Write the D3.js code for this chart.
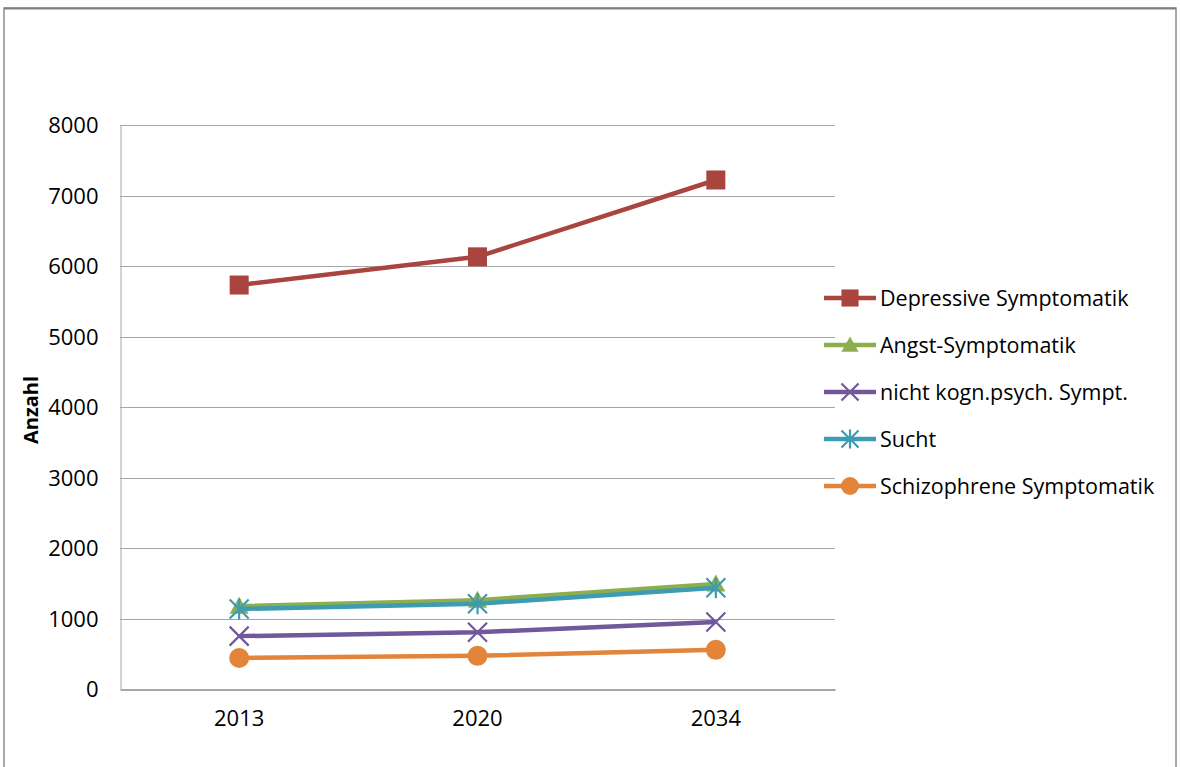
<!DOCTYPE html>
<html>
<head>
<meta charset="utf-8">
<script src="https://cdn.jsdelivr.net/npm/d3@7"></script>
<style>
  body { margin: 0; background: #fff; }
  text { font-family: "Open Sans", Lato, sans-serif; fill: #000; }
</style>
</head>
<body>
<script>
const years = ["2013", "2020", "2034"];
const seriesNames = ["Depressive Symptomatik", "Angst-Symptomatik", "nicht kogn.psych. Sympt.", "Sucht", "Schizophrene Symptomatik"];
const depressive = [5730, 6130, 7220];
const angst = [1175, 1260, 1490];
const nichtKogn = [750, 805, 950];
const sucht = [1135, 1210, 1435];
const schizo = [440, 470, 555];
const yTicks = [0, 1000, 2000, 3000, 4000, 5000, 6000, 7000, 8000];

const colors = ["#a9443f", "#8dae4c", "#70589a", "#3d9bb2", "#e2843a"];
const markers = ["square", "triangle", "x", "star", "circle"];
const allValues = [depressive, angst, nichtKogn, sucht, schizo];

var width = 1180, height = 767;
var plot = {left: 120, right: 835, top: 125, bottom: 689};

var svg = d3.select("body").append("svg")
    .attr("width", width).attr("height", height);

// outer frame
svg.append("rect").attr("x", 4).attr("y", 8).attr("width", 1172).attr("height", 800)
    .attr("fill", "#fff").attr("stroke", "#8c8c8c").attr("stroke-width", 1.5);
svg.append("line").attr("x1", 4).attr("x2", 1176).attr("y1", 8.5).attr("y2", 8.5)
    .attr("stroke", "#808080").attr("stroke-width", 2);

var xScale = d3.scaleBand().domain(years).range([plot.left, plot.right]);
var yScale = d3.scaleLinear().domain([0, 8000]).range([plot.bottom, plot.top]);
var xPos = function(d){ return xScale(d) + xScale.bandwidth()/2; };

// gridlines
svg.append("g").selectAll("line").data(yTicks.filter(function(t){ return t > 0; })).enter().append("line")
    .attr("x1", plot.left).attr("x2", plot.right)
    .attr("y1", function(d){ return Math.round(yScale(d)) + 0.5; })
    .attr("y2", function(d){ return Math.round(yScale(d)) + 0.5; })
    .attr("stroke", "#a6a6a6").attr("stroke-width", 1);

// axes
var yAxis = d3.axisLeft(yScale).tickValues(yTicks).tickFormat(d3.format("d")).tickSize(0).tickPadding(22);
var gy = svg.append("g").attr("transform", "translate(" + (plot.left + 0.5) + ",0)").call(yAxis);
gy.select(".domain").attr("stroke", "#a6a6a6");
gy.selectAll("text").style("font-size", "22px").attr("dy", "0.35em");

var xAxis = d3.axisBottom(xScale).tickSize(0).tickPadding(21);
var gx = svg.append("g").attr("transform", "translate(0," + (plot.bottom + 0.5) + ")").call(xAxis);
gx.select(".domain").attr("stroke", "#a6a6a6").attr("stroke-width", 2);
gx.selectAll("text").style("font-size", "22px");

svg.append("text").attr("transform", "translate(38,410) rotate(-90)")
    .attr("text-anchor", "middle").style("font-size", "20px").style("font-weight", "bold")
    .text("Anzahl");

function drawMarker(g, type, color, cx, cy, scale) {
  var s = scale || 1;
  if (type === "square") {
    g.append("rect").attr("x", cx - 9.5*s).attr("y", cy - 9.5*s).attr("width", 19*s).attr("height", 19*s).attr("fill", color);
  } else if (type === "triangle") {
    var h = 9.5*s;
    g.append("path").attr("d", "M" + cx + "," + (cy - h) + "L" + (cx + h) + "," + (cy + h*0.8) + "L" + (cx - h) + "," + (cy + h*0.8) + "Z").attr("fill", color);
  } else if (type === "circle") {
    g.append("circle").attr("cx", cx).attr("cy", cy).attr("r", 10*s).attr("fill", color);
  } else if (type === "x") {
    var r = 9.5*s;
    g.append("path").attr("d", "M" + (cx - r) + "," + (cy - r) + "L" + (cx + r) + "," + (cy + r) + "M" + (cx - r) + "," + (cy + r) + "L" + (cx + r) + "," + (cy - r))
      .attr("stroke", color).attr("stroke-width", 2.2).attr("fill", "none");
  } else if (type === "star") {
    var r2 = 9.5*s;
    g.append("path").attr("d", "M" + (cx - r2) + "," + (cy - r2) + "L" + (cx + r2) + "," + (cy + r2) + "M" + (cx - r2) + "," + (cy + r2) + "L" + (cx + r2) + "," + (cy - r2) + "M" + cx + "," + (cy - r2*1.1) + "L" + cx + "," + (cy + r2*1.1))
      .attr("stroke", color).attr("stroke-width", 2.2).attr("fill", "none");
  }
}

var line = d3.line().x(function(d, i){ return xPos(years[i]); }).y(function(d){ return yScale(d); });

allValues.forEach(function(vals, k){
  var g = svg.append("g");
  g.append("path").datum(vals).attr("d", line)
    .attr("fill", "none").attr("stroke", colors[k]).attr("stroke-width", 4.5).attr("stroke-linejoin", "round");
  vals.forEach(function(v, i){
    drawMarker(g, markers[k], colors[k], xPos(years[i]), yScale(v));
  });
});

// legend
var legend = svg.append("g");
seriesNames.forEach(function(name, k){
  var y = 298 + k * 47;
  legend.append("line").attr("x1", 824).attr("x2", 876).attr("y1", y).attr("y2", y)
    .attr("stroke", colors[k]).attr("stroke-width", 4.5);
  drawMarker(legend, markers[k], colors[k], 850, y, 0.9);
  legend.append("text").attr("x", 880).attr("y", y).attr("dy", "0.35em")
    .style("font-size", "21.5px").text(name);
});
</script>
</body>
</html>
